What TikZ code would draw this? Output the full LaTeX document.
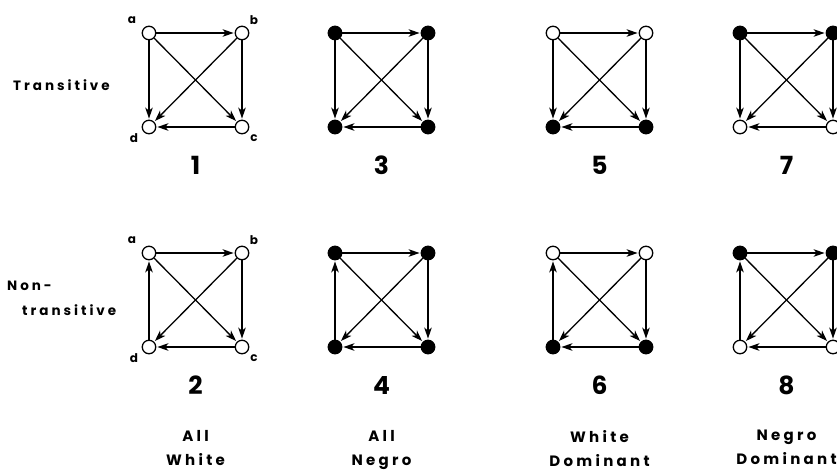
\documentclass[tikz,border=0pt]{standalone}
\usepackage{fontspec}
\setmainfont{Poppins}
\newfontfamily\spacedfont[LetterSpace=22]{Poppins}
\usetikzlibrary{positioning,arrows.meta}

\begin{document}
\begin{tikzpicture}[
    x=1pt, y=-1pt,
    node distance=93pt and 93pt, on grid,
    vertex/.style={circle, draw, line width=1.3pt, minimum size=13.5pt, inner sep=0pt},
    arrow/.style={-{Stealth[length=11pt, width=7.5pt, inset=3pt]}, line width=1.3pt, shorten >=1pt},
    letter/.style={font=\bfseries\fontsize{12}{14}\selectfont, inner sep=1pt},
    number/.style={font=\bfseries\fontsize{25}{28}\selectfont},
    rowlabel/.style={font=\spacedfont\bfseries\fontsize{13.5}{16}\selectfont, inner sep=0pt},
    category/.style={font=\spacedfont\bfseries\fontsize{15}{24}\selectfont, align=center,
        anchor=north, inner sep=0pt}
]
\useasboundingbox (0,0) rectangle (837,471);
\clip (0,0) rectangle (837,471);

% one graph per column and row
\foreach \n/\x/\y/\ftop/\fbot/\src/\dst in {
    1/149/33/white/white/a/d, 3/335/33/black/black/a/d,
    5/553/33/white/black/a/d, 7/740/33/black/white/a/d,
    2/149/253/white/white/d/a, 4/335/253/black/black/d/a,
    6/553/253/white/black/d/a, 8/740/253/black/white/d/a}{
  \node[vertex, fill=\ftop] (a\n) at (\x,\y) {};
  \node[vertex, fill=\ftop, right=of a\n] (b\n) {};
  \node[vertex, fill=\fbot, below=94pt of a\n] (d\n) {};
  \node[vertex, fill=\fbot, right=of d\n] (c\n) {};
  \node[number] (n\n) at ({\x+46.5},{\y+132}) {\n};

  \draw[arrow] (a\n) -- (b\n);
  \draw[arrow] (\src\n) -- (\dst\n);
  \draw[arrow] (a\n) -- (c\n);
  \draw[arrow] (b\n) -- (d\n);
  \draw[arrow] (b\n) -- (c\n);
  \draw[arrow] (c\n) -- (d\n);
}

% vertex letters
\foreach \n in {1,2}{
  \node[letter, above left=13pt and 17pt of a\n] (la\n) {a};
  \node[letter, above right=13pt and 12pt of b\n] (lb\n) {b};
  \node[letter, below right=11pt and 12pt of c\n] (lc\n) {c};
  \node[letter, below left=11pt and 15pt of d\n] (ld\n) {d};
}

\node[rowlabel, anchor=west] (trans) at (13,85) {Transitive};
\node[rowlabel, anchor=west] (non) at (7,286) {Non-};
\node[rowlabel, anchor=west] (nontrans) at (22,310) {transitive};

\node[category] (allw) at (195.5,430) {All\\White};
\node[category] (alln) at (381.5,430) {All\\Negro};
\node[category] (whd)  at (599.5,430) {White\\Dominant};
\node[category] (ngd)  at (786.5,430) {Negro\\Dominant};
\end{tikzpicture}
\end{document}
